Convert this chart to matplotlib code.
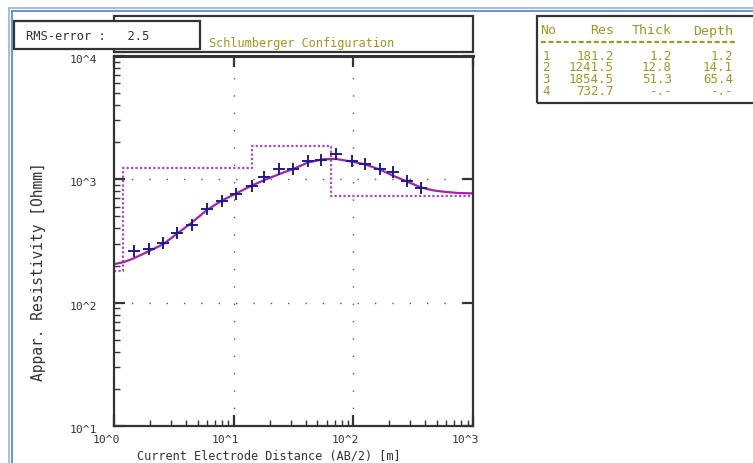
import matplotlib
matplotlib.use('Agg')
from matplotlib import pyplot as plt
from matplotlib.patches import Rectangle
from matplotlib.lines import Line2D
import numpy as np

# measured apparent resistivity (AB/2 [m], rho_a [Ohmm])
ab2 = [1.48, 1.97, 2.58, 3.38, 4.48, 5.95, 7.99, 10.5, 14.1, 17.9, 24.1,
       31.5, 41.6, 53.7, 71.7, 96.9, 125, 167, 216, 282, 366]
rho_meas = [261, 270, 302, 369, 425, 570, 662, 759, 889, 1052, 1213,
            1205, 1419, 1435, 1597, 1409, 1331, 1213, 1140, 969, 857]

# model response curve
ab2_fit = [1.0, 1.2, 1.45, 1.9, 2.58, 3.4, 4.48, 5.95, 7.9, 10.5, 14.1, 18.9,
           24.5, 31.5, 41.6, 56.2, 71.7, 96.9, 125, 167, 220, 282, 366,
           460, 564, 750, 1000]
rho_fit = [205, 213, 228, 258, 298, 365, 447, 562, 670, 769, 889, 1005,
           1110, 1213, 1368, 1455, 1463, 1392, 1324, 1199, 1060, 958, 861,
           815, 794, 775, 769]

# layered model
layer_no = ['1', '2', '3', '4']
layer_res = [181.2, 1241.5, 1854.5, 732.7]
layer_thick = ['1.2', '12.8', '51.3', '-.-']
layer_depth = [1.2, 14.1, 65.4]
rms_error = 2.5

x_ticks = [1, 10, 100, 1000]
x_tick_labels = ['10^0', '10^1', '10^2', '10^3']
y_ticks = [10, 100, 1000, 10000]
y_tick_labels = ['10^1', '10^2', '10^3', '10^4']

W, H = 753, 464
fig = plt.figure(figsize=(W / 100, H / 100), dpi=100)
fig.patch.set_facecolor('white')

def fx(px):
    return px / W

def fy(py):
    return 1 - py / H

mono = 'DejaVu Sans Mono'
olive = '#9a9a1e'
purple = '#a424a8'
txt = '#333333'

# outer window frame
for p, c in [(9, '#8fb4e0'), (12, '#4a86c8')]:
    fig.add_artist(Line2D([fx(p), 1], [fy(p), fy(p)], color=c, lw=1.2))
    fig.add_artist(Line2D([fx(p), fx(p)], [fy(p), 0], color=c, lw=1.2))

ax = fig.add_axes([fx(114), fy(427), fx(473) - fx(114), fy(57) - fy(427)])
ax.set_xscale('log')
ax.set_yscale('log')
ax.set_xlim(1, 1000)
ax.set_ylim(10, 10000)

# step model
step_x = [1.0]
step_y = [layer_res[0]]
for i, d in enumerate(layer_depth):
    step_x += [d, d]
    step_y += [layer_res[i], layer_res[i + 1]]
step_x.append(1000)
step_y.append(layer_res[-1])
ax.plot(step_x, step_y, color=purple, lw=1.6, ls=(0, (1, 1)), alpha=0.85)

ax.plot(ab2_fit, rho_fit, color=purple, lw=1.6)
ax.plot(ab2, rho_meas, ls='none', marker='+', ms=9, mew=1.4, color='#1c1c90')

# sparse dotted grid
for v in [10, 100]:
    ax.axvline(v, color='#555555', lw=1.0, ls=(0, (1, 11.5)))
for v in [100, 1000]:
    ax.axhline(v, color='#555555', lw=1.0, ls=(0, (1, 11.5)))

for s in ax.spines.values():
    s.set_linewidth(1.6)
    s.set_color('#333333')
ax.spines['top'].set_linewidth(2.2)

ax.tick_params(which='both', direction='in', top=True, right=True,
               colors='#333333')
ax.tick_params(which='major', length=8, width=1.6)
ax.tick_params(which='minor', length=4, width=1.0, top=False, right=False)

ax.set_xticks(x_ticks)
ax.set_xticklabels([])
ax.set_yticks(y_ticks)
ax.set_yticklabels([])

# tick labels sit slightly left of (x) / below (y) their ticks
for v, lab in zip(x_ticks, x_tick_labels):
    ax.annotate(lab, xy=(v, 0), xycoords=('data', 'axes fraction'),
                xytext=(-8, -13), textcoords='offset pixels', ha='center',
                va='center', family=mono, fontsize=8.2, color=txt)
for v, lab in zip(y_ticks, y_tick_labels):
    ax.annotate(lab, xy=(0, v), xycoords=('axes fraction', 'data'),
                xytext=(-17, -3), textcoords='offset pixels', ha='right',
                va='center', family=mono, fontsize=8.2, color=txt)

fig.text(fx(269), fy(456), 'Current Electrode Distance (AB/2) [m]',
         family=mono, fontsize=8.6, color=txt, ha='center', va='center')
fig.text(fx(39), fy(272), 'Appar. Resistivity [Ohmm]', family=mono,
         fontsize=10.5, color=txt, rotation=90, ha='center', va='center')

# title box and RMS box
fig.add_artist(Rectangle((fx(114), fy(53)), fx(473) - fx(114), fy(17) - fy(53),
                         transform=fig.transFigure, fill=False,
                         ec='#333333', lw=1.6))
fig.text(fx(209), fy(43), 'Schlumberger Configuration', family=mono,
         fontsize=8.6, color=olive, va='center')
fig.add_artist(Rectangle((fx(14), fy(50)), fx(200) - fx(14), fy(22) - fy(50),
                         transform=fig.transFigure, fc='white',
                         ec='#333333', lw=1.6, zorder=3))
fig.text(fx(26), fy(36), 'RMS-error :   %.1f' % rms_error, family=mono,
         fontsize=8.7, color=txt, va='center', zorder=4)

# layer table
fig.add_artist(Rectangle((fx(537), fy(104)), fx(760) - fx(537), fy(17) - fy(104),
                         transform=fig.transFigure, fill=False,
                         ec='#333333', lw=1.6))
col_x = [540, 614, 672, 733]
heads = ['No', 'Res', 'Thick', 'Depth']
for i, h in enumerate(heads):
    fig.text(fx(col_x[i]), fy(31), h, family=mono, fontsize=9.5, color=olive,
             va='center', ha='left' if i == 0 else 'right')
fig.add_artist(Line2D([fx(541), fx(735)], [fy(43), fy(43)], color=olive,
                      lw=1.6, ls=(0, (2.2, 1.2))))
depth_txt = ['%.1f' % d for d in layer_depth] + ['-.-']
for r in range(4):
    y = fy(56 + r * 11.8)
    fig.text(fx(546), y, layer_no[r], family=mono, fontsize=9,
             color=olive, va='center', ha='center')
    fig.text(fx(col_x[1]), y, '%.1f' % layer_res[r], family=mono,
             fontsize=9, color=olive, va='center', ha='right')
    fig.text(fx(col_x[2]), y, layer_thick[r], family=mono, fontsize=9,
             color=olive, va='center', ha='right')
    fig.text(fx(col_x[3]), y, depth_txt[r], family=mono, fontsize=9,
             color=olive, va='center', ha='right')

fig.savefig('out.png', dpi=100)
